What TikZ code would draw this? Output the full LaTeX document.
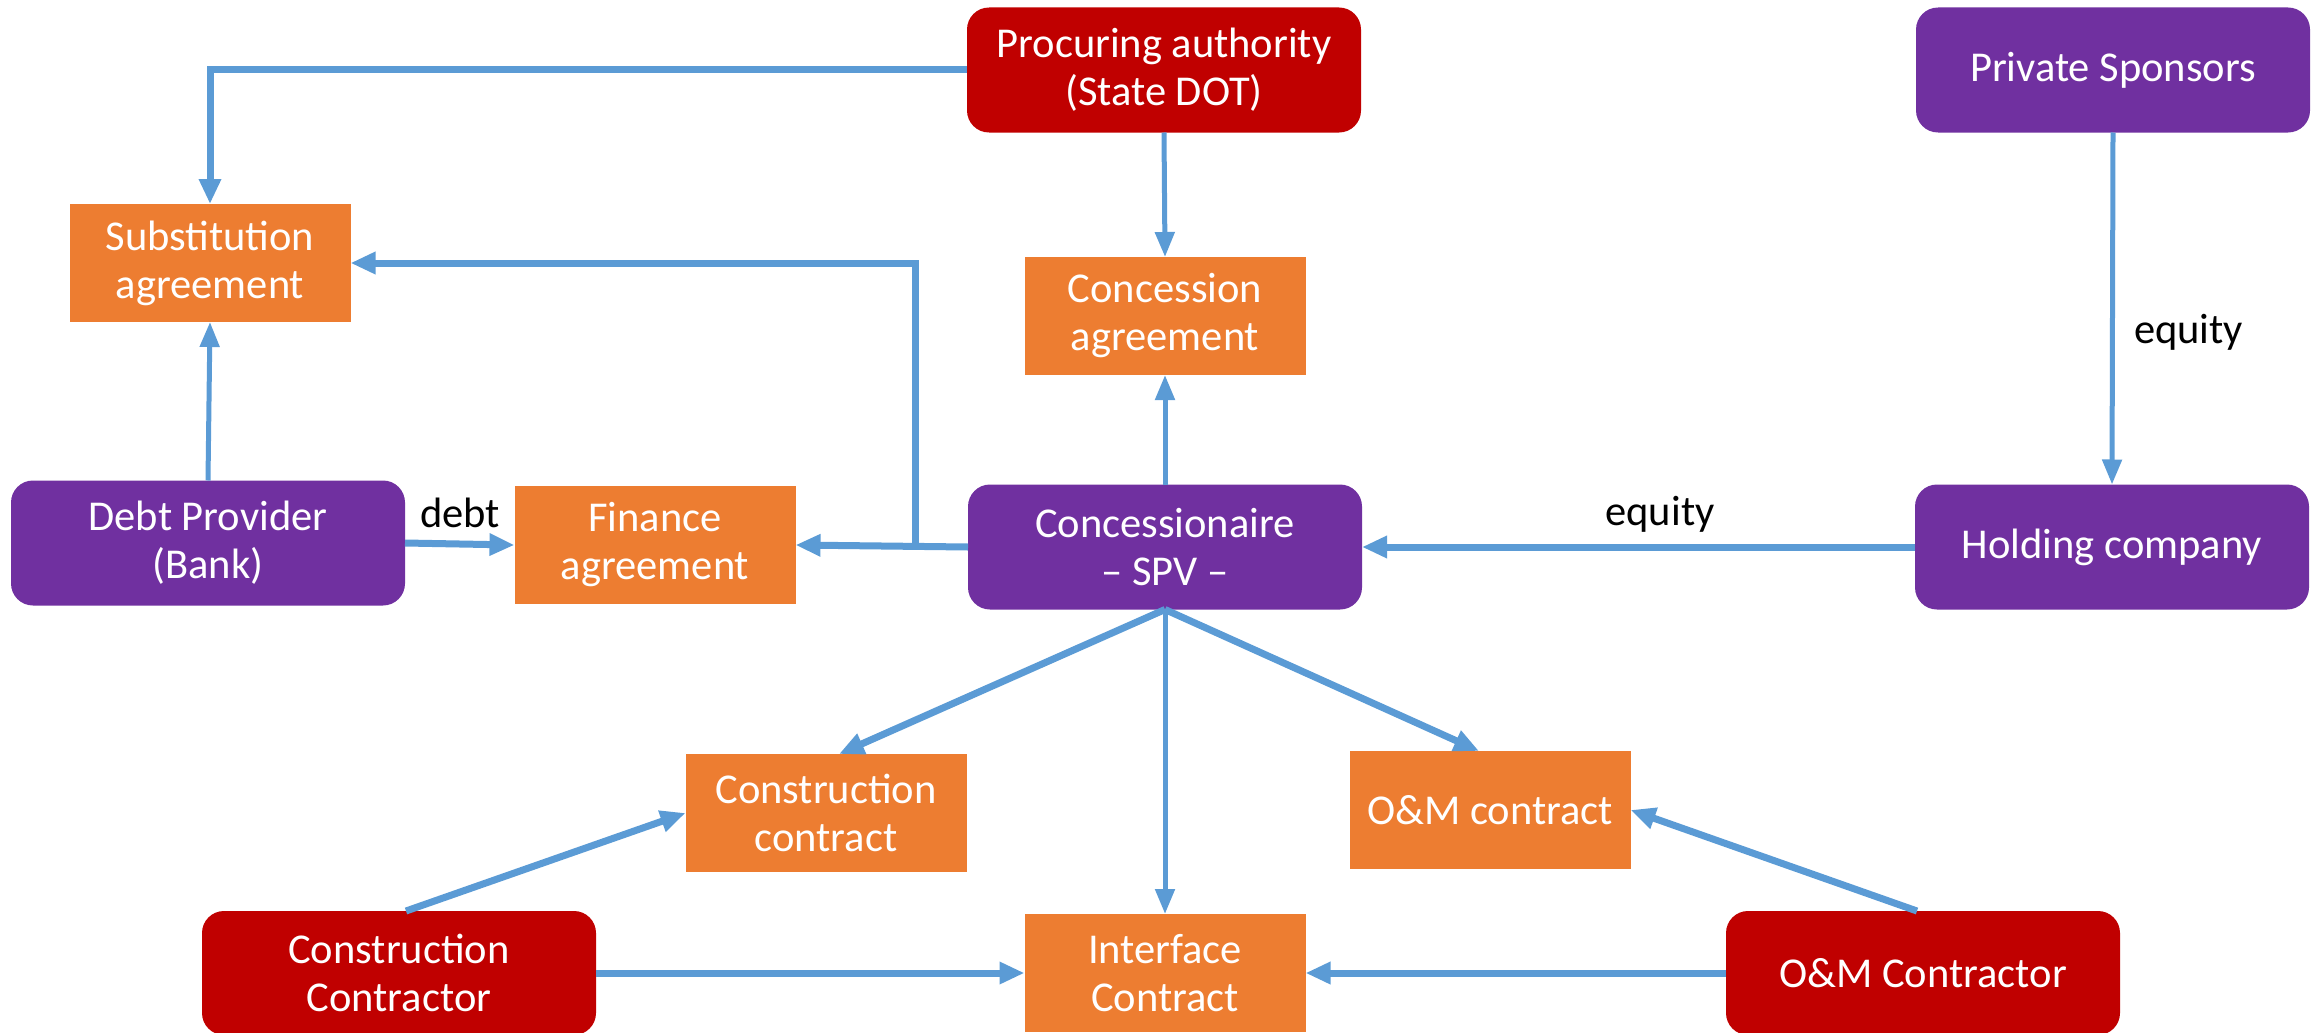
\documentclass[tikz,border=0pt]{standalone}
\usepackage{fontspec}
\setmainfont{Carlito}
\usetikzlibrary{arrows.meta}
\definecolor{cred}{HTML}{C00000}
\definecolor{cpurple}{HTML}{7030A0}
\definecolor{corange}{HTML}{ED7D31}
\definecolor{cblue}{HTML}{5B9BD5}
\begin{document}
\begin{tikzpicture}[x=1pt,y=-1pt,
  every node/.style={inner sep=0pt, outer sep=0pt, font=\fontsize{42.5}{48}\selectfont},
  party/.style={rectangle, rounded corners=22pt, minimum width=394pt, minimum height=125pt, text=white, align=center},
  redbox/.style={party, fill=cred},
  purplebox/.style={party, fill=cpurple},
  docbox/.style={rectangle, fill=corange, minimum width=281pt, minimum height=118pt, text=white, align=center},
  arr/.style={draw=cblue, line width=7pt, -{Triangle[length=25pt,width=21pt]}},
  arrthin/.style={draw=cblue, line width=5pt, -{Triangle[length=25pt,width=19pt]}},
  lbl/.style={text=black}
]
\useasboundingbox (0,0) rectangle (2318,1033);

\node[redbox] (pa) at (1164,70) {Procuring authority\\(State DOT)};
\node[purplebox] (ps) at (2113,70) {Private Sponsors};
\node[docbox] (sub) at (210,263) {Substitution\\agreement};
\node[docbox] (con) at (1165,316) {Concession\\agreement};
\node[purplebox] (debt) at (208,543) {Debt Provider\\(Bank)};
\node[docbox] (fin) at (655,545) {Finance\\agreement};
\node[purplebox] (spv) at (1165,547) {Concessionaire\\– SPV –};
\node[purplebox] (hold) at (2112,547) {Holding company};
\node[docbox] (cc) at (826,813) {Construction\\contract};
\node[docbox] (om) at (1490,810) {O\&M contract};
\node[docbox] (intf) at (1165,973) {Interface\\Contract};
\node[redbox, minimum height=124pt] (cctr) at (399,973) {Construction\\Contractor};
\node[redbox, minimum height=124pt] (omctr) at (1923,973) {O\&M Contractor};

\coordinate (br) at (915,547);

\draw[arr] (pa.west) -| (sub.north);
\draw[arrthin] (pa.south) -- (con.north);
\draw[arrthin] (spv.north) -- (con.south);
\draw[arr] (spv.west) -- (fin.east);
\draw[arr] (br) |- (sub.east);
\draw[arrthin] (debt.north) -- (sub.south);
\draw[arr] (debt.east) -- (fin.west);
\node[lbl] (ldebt) at (460,513) {debt};
\draw[arr] (hold.west) -- (spv.east);
\node[lbl] (leq1) at (1660,514) {equity};
\draw[arrthin] (ps.south) -- (hold.north);
\node[lbl, anchor=west] (leq2) at (2134,332) {equity};
\draw[arr] (spv.south) -- ([xshift=13pt]cc.north);
\draw[arrthin] (spv.south) -- (intf.north);
\draw[arr] (spv.south) -- ([xshift=-11pt]om.north);
\draw[arr] ([xshift=7pt]cctr.north) -- (cc.west);
\draw[arr] (cctr.east) -- (intf.west);
\draw[arr] ([xshift=-6pt]omctr.north) -- (om.east);
\draw[arr] (omctr.west) -- (intf.east);
\end{tikzpicture}
\end{document}
